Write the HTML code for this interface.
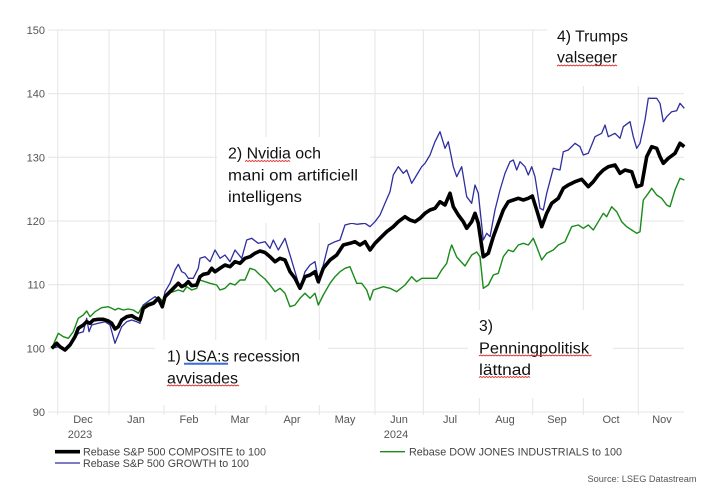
<!DOCTYPE html>
<html><head><meta charset="utf-8"><style>
html,body{margin:0;padding:0;background:#fff;}
svg{display:block;}
</style></head><body>
<svg width="703" height="495" viewBox="0 0 703 495" xmlns="http://www.w3.org/2000/svg" font-family="Liberation Sans, Arial, sans-serif">
<rect width="703" height="495" fill="#fff"/>
<g stroke="#e4e4e4" stroke-width="1">
<line x1="48" y1="30" x2="684" y2="30"/>
<line x1="48" y1="93.7" x2="684" y2="93.7"/>
<line x1="48" y1="157.3" x2="684" y2="157.3"/>
<line x1="48" y1="221" x2="684" y2="221"/>
<line x1="48" y1="284.7" x2="684" y2="284.7"/>
<line x1="48" y1="348.3" x2="684" y2="348.3"/>
<line x1="48" y1="412" x2="684" y2="412"/>
<line x1="57.7" y1="30" x2="57.7" y2="415"/>
<line x1="109" y1="30" x2="109" y2="415"/>
<line x1="164" y1="30" x2="164" y2="415"/>
<line x1="215.7" y1="30" x2="215.7" y2="415"/>
<line x1="266" y1="30" x2="266" y2="415"/>
<line x1="319.3" y1="30" x2="319.3" y2="415"/>
<line x1="375" y1="30" x2="375" y2="415"/>
<line x1="423.3" y1="30" x2="423.3" y2="415"/>
<line x1="479.3" y1="30" x2="479.3" y2="415"/>
<line x1="532.7" y1="30" x2="532.7" y2="415"/>
<line x1="583.3" y1="30" x2="583.3" y2="415"/>
<line x1="638.3" y1="30" x2="638.3" y2="415"/>
</g>
<g fill="#555" font-size="11" text-anchor="end">
<text x="45" y="34">150</text>
<text x="45" y="97.7">140</text>
<text x="45" y="161.3">130</text>
<text x="45" y="225">120</text>
<text x="45" y="288.7">110</text>
<text x="45" y="352.3">100</text>
<text x="45" y="416">90</text>
</g>
<g fill="#555" font-size="11" text-anchor="middle">
<text x="83" y="423">Dec</text>
<text x="136" y="423">Jan</text>
<text x="189" y="423">Feb</text>
<text x="240" y="423">Mar</text>
<text x="292" y="423">Apr</text>
<text x="345" y="423">May</text>
<text x="399" y="423">Jun</text>
<text x="450" y="423">Jul</text>
<text x="505" y="423">Aug</text>
<text x="557" y="423">Sep</text>
<text x="611" y="423">Oct</text>
<text x="662" y="423">Nov</text>
<text x="80" y="438">2023</text>
<text x="396" y="438">2024</text>
</g>
<!-- Dow Jones (green) -->
<polyline fill="none" stroke="#1a8a1a" stroke-width="1.4" stroke-linejoin="round" points="51.7,348.3 58.3,333.3 63.3,336.7 68.3,338.3 73.3,331.7 78.3,318.3 83.3,315 86.7,311 90,316.7 95,311.7 101.7,307.7 108.3,306.7 111.7,308.3 115,310 118.3,308.3 123.3,310 128.3,309 133.3,310 138.3,313.3 143.3,305 148.3,303.3 153.3,301.7 158.3,296.7 163.3,301.7 168.3,293.3 173.3,291.7 178.3,290 183.3,291.7 186.7,286.7 191.7,290 196.7,288.3 200,280 205,281.7 210,283.3 216.7,285 220,290 225,288.3 230,283.3 235,285 240,280 245,280 250,268.3 255,270 260,275 265,279 270,285 275,291.7 280,288.3 285,293.3 290,306.7 295,305 300,298.3 305,293.3 310,298.3 315,293.3 318.3,305 323.3,295 330,283.3 335,276.7 340,271.7 345,268.3 350,266.7 356.7,283.3 361.7,283.3 366.7,290 370,300 373.3,290 383.3,286.7 390,288.3 396.7,291.7 405,285 411.7,276.7 416.7,281.7 421.7,278.3 428.3,278.3 436.7,278.3 441.7,270 446.7,263.3 450,250 451.7,245 456.7,257 465,266 471.7,255 476.7,252 480,256.7 483.3,288.3 488.3,285 493.3,275 498.3,273.3 503.3,256.7 508.3,250 513.3,251.7 518.3,245 523.3,243.3 528.3,245 533.3,238.3 536.7,246.7 541.7,260 546.7,253.3 553.3,250 558.3,245 565,241.7 571.7,226.7 578.3,225 583.3,228.3 588.3,225 593.3,230 598.3,221.7 603.3,213.3 606.7,216.7 611.7,206.7 616.7,211.7 621.7,221.7 626.7,226.7 631.7,230 636.7,233.3 640,231.7 643.3,200 648.3,193.3 651.7,188.3 656.7,195 661.7,198.3 666.7,205 670,206.7 675,190 680,178.3 684.3,180"/>
<!-- S&P Growth (blue) -->
<polyline fill="none" stroke="#2e2ea0" stroke-width="1.3" stroke-linejoin="round" points="51.7,348.3 58.3,346.7 63.3,350 68.3,345 73.3,340 78.3,333.3 83.3,331.7 86.7,318.3 89,331.7 91.7,325 98.3,323.3 105,321.7 110,325 115,343.3 118.3,335 121.7,326.7 126.7,321.7 131.7,320 136.7,321.7 140,323.3 143.3,305 150,300 155,296.7 160,300 162.3,306.7 165,291.7 170,283.3 175,270 178.3,264.3 181.7,271.7 185,273.3 188.3,278.3 193.3,278.3 198.3,268.3 200,258.3 205,256.7 210,261.7 215,250 220,258.3 225,255 230,261.7 235,250 241.7,258.3 246.7,240 251.7,238.3 258.3,243.3 265,241.7 270,248.3 273.3,240 278.3,250 285,238.3 290,255 295,271.7 300,288.3 305,271.7 310,265 315,261.7 319,283.3 323.3,265 328.3,245 335,241.7 340,240 345,225 351.7,223.3 356.7,224.3 365,223.3 370,226.7 375,221.7 380,215 385,203.3 390,191.7 393.3,175 398.3,166.7 403.3,173.3 406.7,170 411.7,183.3 416.7,175 421.7,166.7 425,163.3 430,155 435,141.7 440,131.7 445,148.3 448.3,141.7 453.3,166.7 456.7,176.7 461.7,166.7 466.7,196.7 471.7,203.3 475,185 478.3,193.3 483.3,240 486.7,233.3 490,236.7 495,210 500,190 505,173.3 510,161.7 513.3,160 516.7,170 520,161.7 525,166.7 528.3,175 531.7,166.7 535,176.7 540,208.3 543.3,210 546.7,193.3 553.3,168.3 560,170 563.3,151.7 568.3,150 575,143.3 580,146.7 583.3,155 588.3,153.3 591.7,145 595,136.7 601.7,133.3 605,125 608.3,136.7 615,133.3 620,138.3 623.3,126.7 630,121.7 633.3,136.7 636.7,148.3 640,143.3 645,120 648.3,98.3 656.7,98.3 660,103.3 663.3,121.7 666.7,116.7 671.7,111.7 676.7,110.7 680,103.3 684.3,108.3"/>
<!-- S&P Composite (black) -->
<polyline fill="none" stroke="#000" stroke-width="3.6" stroke-linejoin="round" points="51.7,348.3 56.7,343.3 60,346.7 65,350 70,345 75,336.7 78.3,328.3 83.3,325 86.7,321.7 90,323.3 93.3,320 98.3,319.3 103.3,319.3 108.3,321 111.7,323.3 115,329 118.3,326.7 121.7,320 126.7,316.7 131.7,315.7 135,317.7 140,320 143.3,308.3 148.3,305 153.3,303.3 158.3,298.3 162.3,306.7 165,296.7 170,291.7 175,286.7 178.3,283.3 181.7,286.7 185,285 188.3,281.7 191.7,285.7 196.7,285 200,276.7 203.3,274.3 208.3,273.3 211.7,268.3 215,271.7 220,268.3 225,265 230,266.7 235,261.7 240,263.3 245,258.3 250,256.7 255,253.3 260,251 265,252.5 270,256.7 275,261.7 280,258.3 285,260 290,271.7 295,278.3 300,288.3 305,276.7 310,275 315,271.7 318.3,281.7 323.3,268.3 330,260 336.7,255 343.3,245 350,243.3 355,241.7 360,245 365,241.7 370,250 375,243.3 380,238.3 386.7,231.7 393.3,226.7 398.3,221.7 405,216.7 410,220 415,221.7 420,218.3 425,213.3 430,210 435,208.3 440,201.7 445,205 450,193.3 453.3,206.7 458.3,215 463.3,221.7 466.7,228.3 471.7,221.7 475,213.3 478.3,223.3 483.3,256.7 488.3,253.3 493.3,236.7 498.3,223.3 503.3,210 508.3,201.7 513.3,200 518.3,198.3 523.3,200 528.3,198.3 532.3,196 536.7,210 541.7,226.7 546.7,213.3 551.7,203.3 558.3,198.3 563.3,188.3 568.3,185 575,181.7 581.7,179.3 588.3,186.7 593.3,181.7 598.3,175 603.3,170 608.3,166.7 615,165 620,173.3 625,170 631.7,171.7 636.7,186.7 641.7,185 646.7,156.7 651.7,146.7 656.7,148.3 660,156.7 663.3,163.3 668.3,158.3 675,153.3 680,143.3 684.3,146.7"/>
<!-- annotation boxes -->
<g fill="#fff">
<rect x="217" y="137" width="153" height="86"/>
<rect x="547" y="0" width="150" height="86"/>
<rect x="155" y="340" width="173" height="65"/>
<rect x="468" y="310" width="145" height="88"/>
</g>
<g fill="#111" font-size="15.5">
<text x="228" y="158.5" textLength="93" lengthAdjust="spacingAndGlyphs">2) Nvidia och</text>
<text x="228" y="180.5" textLength="130" lengthAdjust="spacingAndGlyphs">mani om artificiell</text>
<text x="228" y="202" textLength="74" lengthAdjust="spacingAndGlyphs">intelligens</text>
<text x="557" y="41.7" textLength="71" lengthAdjust="spacingAndGlyphs">4) Trumps</text>
<text x="557" y="62.7" textLength="60" lengthAdjust="spacingAndGlyphs">valseger</text>
<text x="167" y="361.7" textLength="133" lengthAdjust="spacingAndGlyphs">1) USA:s recession</text>
<text x="167" y="383.3" textLength="71" lengthAdjust="spacingAndGlyphs">avvisades</text>
<text x="479" y="331" textLength="14" lengthAdjust="spacingAndGlyphs">3)</text>
<text x="479" y="353.3" textLength="110" lengthAdjust="spacingAndGlyphs">Penningpolitisk</text>
<text x="479" y="375" textLength="52" lengthAdjust="spacingAndGlyphs">lättnad</text>
</g>
<g fill="none" stroke="#e02020" stroke-width="0.9">
<path d="M245,161.5 l1.5,-1 l1.5,1 l1.5,-1 l1.5,1 l1.5,-1 l1.5,1 l1.5,-1 l1.5,1 l1.5,-1 l1.5,1 l1.5,-1 l1.5,1 l1.5,-1 l1.5,1 l1.5,-1 l1.5,1 l1.5,-1 l1.5,1 l1.5,-1 l1.5,1 l1.5,-1 l1.5,1 l1.5,-1 l1.5,1 l1.5,-1 l1.5,1 l1.5,-1 l1.5,1 l1.5,-1 l1.5,1"/>
<path d="M557,66 l1.5,-1 l1.5,1 l1.5,-1 l1.5,1 l1.5,-1 l1.5,1 l1.5,-1 l1.5,1 l1.5,-1 l1.5,1 l1.5,-1 l1.5,1 l1.5,-1 l1.5,1 l1.5,-1 l1.5,1 l1.5,-1 l1.5,1 l1.5,-1 l1.5,1 l1.5,-1 l1.5,1 l1.5,-1 l1.5,1 l1.5,-1 l1.5,1 l1.5,-1 l1.5,1 l1.5,-1 l1.5,1 l1.5,-1 l1.5,1 l1.5,-1 l1.5,1 l1.5,-1 l1.5,1 l1.5,-1 l1.5,1 l1.5,-1 l1.5,1"/>
<path d="M167,386 l1.5,-1 l1.5,1 l1.5,-1 l1.5,1 l1.5,-1 l1.5,1 l1.5,-1 l1.5,1 l1.5,-1 l1.5,1 l1.5,-1 l1.5,1 l1.5,-1 l1.5,1 l1.5,-1 l1.5,1 l1.5,-1 l1.5,1 l1.5,-1 l1.5,1 l1.5,-1 l1.5,1 l1.5,-1 l1.5,1 l1.5,-1 l1.5,1 l1.5,-1 l1.5,1 l1.5,-1 l1.5,1 l1.5,-1 l1.5,1 l1.5,-1 l1.5,1 l1.5,-1 l1.5,1 l1.5,-1 l1.5,1 l1.5,-1 l1.5,1 l1.5,-1 l1.5,1 l1.5,-1 l1.5,1 l1.5,-1 l1.5,1 l1.5,-1 l1.5,1"/>
<path d="M479,356 l1.5,-1 l1.5,1 l1.5,-1 l1.5,1 l1.5,-1 l1.5,1 l1.5,-1 l1.5,1 l1.5,-1 l1.5,1 l1.5,-1 l1.5,1 l1.5,-1 l1.5,1 l1.5,-1 l1.5,1 l1.5,-1 l1.5,1 l1.5,-1 l1.5,1 l1.5,-1 l1.5,1 l1.5,-1 l1.5,1 l1.5,-1 l1.5,1 l1.5,-1 l1.5,1 l1.5,-1 l1.5,1 l1.5,-1 l1.5,1 l1.5,-1 l1.5,1 l1.5,-1 l1.5,1 l1.5,-1 l1.5,1 l1.5,-1 l1.5,1 l1.5,-1 l1.5,1 l1.5,-1 l1.5,1 l1.5,-1 l1.5,1 l1.5,-1 l1.5,1 l1.5,-1 l1.5,1 l1.5,-1 l1.5,1 l1.5,-1 l1.5,1 l1.5,-1 l1.5,1 l1.5,-1 l1.5,1 l1.5,-1 l1.5,1 l1.5,-1 l1.5,1 l1.5,-1 l1.5,1 l1.5,-1 l1.5,1 l1.5,-1 l1.5,1 l1.5,-1 l1.5,1 l1.5,-1 l1.5,1 l1.5,-1 l1.5,1 l1.5,-1"/>
<path d="M479,377.5 l1.5,-1 l1.5,1 l1.5,-1 l1.5,1 l1.5,-1 l1.5,1 l1.5,-1 l1.5,1 l1.5,-1 l1.5,1 l1.5,-1 l1.5,1 l1.5,-1 l1.5,1 l1.5,-1 l1.5,1 l1.5,-1 l1.5,1 l1.5,-1 l1.5,1 l1.5,-1 l1.5,1 l1.5,-1 l1.5,1 l1.5,-1 l1.5,1 l1.5,-1 l1.5,1 l1.5,-1 l1.5,1 l1.5,-1 l1.5,1 l1.5,-1 l1.5,1"/>
</g>
<line x1="184" y1="363.8" x2="228" y2="363.8" stroke="#3a6fd8" stroke-width="2"/>
<!-- legend -->
<line x1="55" y1="451.7" x2="80" y2="451.7" stroke="#000" stroke-width="3.6"/>
<line x1="55" y1="463" x2="80" y2="463" stroke="#2e2ea0" stroke-width="1.3"/>
<line x1="380" y1="451.7" x2="405" y2="451.7" stroke="#1a8a1a" stroke-width="1.4"/>
<g fill="#444" font-size="11">
<text x="83" y="455.5" textLength="183" lengthAdjust="spacingAndGlyphs">Rebase S&amp;P 500 COMPOSITE to 100</text>
<text x="83" y="467" textLength="166" lengthAdjust="spacingAndGlyphs">Rebase S&amp;P 500 GROWTH to 100</text>
<text x="409" y="455.5" textLength="213" lengthAdjust="spacingAndGlyphs">Rebase DOW JONES INDUSTRIALS to 100</text>
</g>
<text x="587.5" y="482" fill="#555" font-size="9.5" textLength="109" lengthAdjust="spacingAndGlyphs">Source: LSEG Datastream</text>
</svg>
</body></html>
